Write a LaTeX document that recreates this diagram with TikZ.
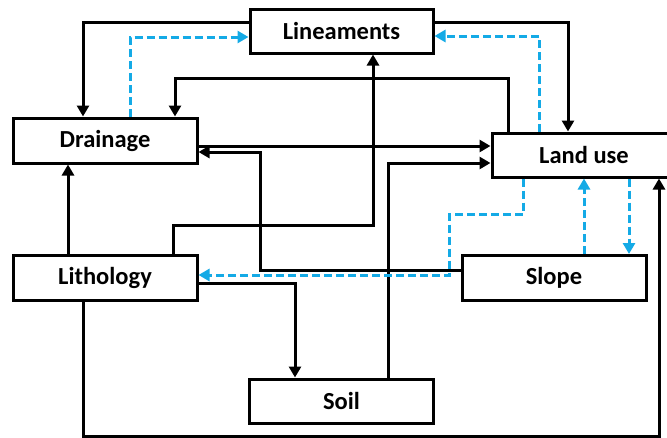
\documentclass[tikz,border=0pt]{standalone}
\usepackage{fontspec}
\setmainfont{Carlito}
\usetikzlibrary{arrows.meta}

\definecolor{linkblue}{RGB}{20,170,230}
\tikzset{
  box/.style={draw=black,line width=3pt,fill=white,inner sep=0pt,
    font=\fontsize{24.5}{26}\selectfont\bfseries},
  link/.style={line width=3pt,-{Triangle[length=11pt,width=12pt]}},
  dlink/.style={link,draw=linkblue,dash pattern=on 8pt off 4pt}
}

\begin{document}
\begin{tikzpicture}[x=1pt,y=-1pt]
\clip (0,0) rectangle (667,437);
\fill[white] (0,0) rectangle (667,437);
% boxes
\node[box,minimum width=183pt,minimum height=44pt] (lin) at (341.5,31) {Lineaments};
\node[box,minimum width=184pt,minimum height=45pt] (drain) at (105,140.5) {Drainage};
\node[box,minimum width=184pt,minimum height=44pt] (land) at (584,155) {Land use};
\node[box,minimum width=184pt,minimum height=45pt] (litho) at (105,278) {Lithology};
\node[box,minimum width=184pt,minimum height=45pt] (slope) at (554,278) {Slope};
\node[box,minimum width=184pt,minimum height=44pt] (soil) at (341.5,401) {Soil};

% black links
\draw[link] (lin.west |- 0,22) -| (drain.north -| 83,0);
\draw[link] (land.north -| 508,0) |- (175,78) -- (drain.north -| 175,0);
\draw[link] (lin.east |- 0,22) -| (land.north -| 568,0);
\draw[link] (drain.east |- 0,146) -- (land.west |- 0,146);
\draw[link] (slope.west |- 0,270) -| (260,152) -- (drain.east |- 0,152);
\draw[link] (litho.north -| 173,0) |- (373,225) -- (lin.south -| 373,0);
\draw[link] (soil.north -| 388,0) |- (land.west |- 0,163);
\draw[link] (litho.south -| 83,0) |- (659,436.5) -- (land.south -| 659,0);
\draw[link] (litho.east |- 0,283) -| (soil.north -| 295,0);
\draw[link] (litho.north -| 68,0) -- (drain.south -| 68,0);

% blue dashed links
\draw[dlink] (drain.north -| 130,0) |- (lin.west |- 0,37);
\draw[dlink] (land.north -| 539,0) |- (lin.east |- 0,36);
\draw[dlink] (land.south -| 523,0) |- (449,214) |- (litho.east |- 0,275);
\draw[dlink] (slope.north -| 584,0) -- (land.south -| 584,0);
\draw[dlink] (land.south -| 629,0) -- (slope.north -| 629,0);
\end{tikzpicture}
\end{document}
